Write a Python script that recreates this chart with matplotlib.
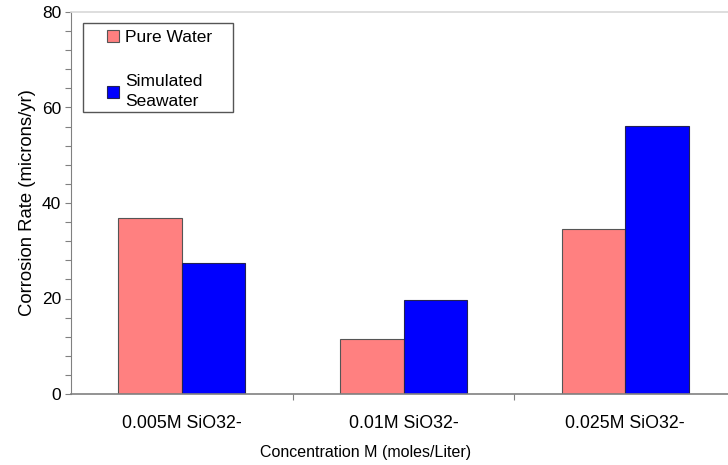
import numpy as np
import matplotlib
matplotlib.use("Agg")
from matplotlib import pyplot as plt
from matplotlib.ticker import MultipleLocator
from matplotlib.patches import Rectangle

categories = ["0.005M SiO32-", "0.01M SiO32-", "0.025M SiO32-"]
pure_water = [36.8, 11.6, 34.5]
seawater = [27.5, 19.6, 56.1]

plt.rcParams['font.family'] = ['Liberation Sans', 'DejaVu Sans']

fig = plt.figure(figsize=(7.28, 4.65), dpi=100)
# axes run off the right edge like the original crop
ax = fig.add_axes([71 / 728, (465 - 394) / 465, 665 / 728, 382 / 465])

x = np.arange(len(categories))
w = 0.287
b1 = ax.bar(x - w / 2, pure_water, w, color='#FF8080', edgecolor='#555555', linewidth=0.8, label='Pure Water')
b2 = ax.bar(x + w / 2, seawater, w, color='#0000FF', edgecolor='#222255', linewidth=0.8, label='Simulated\nSeawater')

ax.set_xlim(-0.5, 2.5)
ax.set_ylim(0, 80)
ax.yaxis.set_major_locator(MultipleLocator(20))
ax.yaxis.set_minor_locator(MultipleLocator(4))
ax.tick_params(axis='y', which='both', direction='out', length=4, width=0.8, color='#808080', labelsize=12.5, pad=3)

# category ticks sit between groups, labels centred on groups
ax.set_xticks([0.5, 1.5])
ax.set_xticklabels([])
ax.set_xticks(x, minor=True)
ax.set_xticklabels(categories, minor=True)
ax.tick_params(axis='x', which='major', direction='out', length=4, width=0.8, color='#808080')
ax.tick_params(axis='x', which='minor', length=0, labelsize=12.8, pad=15)

ax.spines['right'].set_visible(False)
ax.spines['top'].set_color('#d8d8d8')
ax.spines['top'].set_linewidth(1.2)
ax.spines['left'].set_color('#808080')
ax.spines['bottom'].set_color('#808080')
ax.spines['bottom'].set_linewidth(1.2)

ax.set_ylabel('Corrosion Rate (microns/yr)', fontsize=13.3, labelpad=4)
ax.set_xlabel('Concentration M (moles/Liter)', fontsize=11.5)
ax.xaxis.set_label_coords((366 - 71) / 665, -0.133)

# legend box drawn separately so the inner padding can be matched
ax.add_patch(Rectangle(((83 - 71) / 665, (394 - 112) / 382), 150 / 665, 89 / 382,
                       transform=ax.transAxes, facecolor='white', edgecolor='#555555',
                       linewidth=1.0, zorder=4))
leg = ax.legend(handles=[b1, b2], loc='upper left',
                bbox_to_anchor=((107 - 71) / 665, (394 - 30) / 382), borderaxespad=0,
                fontsize=12.5, handlelength=0.7, handleheight=0.7, handletextpad=0.35,
                labelspacing=1.68, borderpad=0, frameon=False)
for t in leg.get_texts():
    t.set_linespacing(1.4)
leg.set_zorder(5)

fig.savefig('out.png', dpi=100)
